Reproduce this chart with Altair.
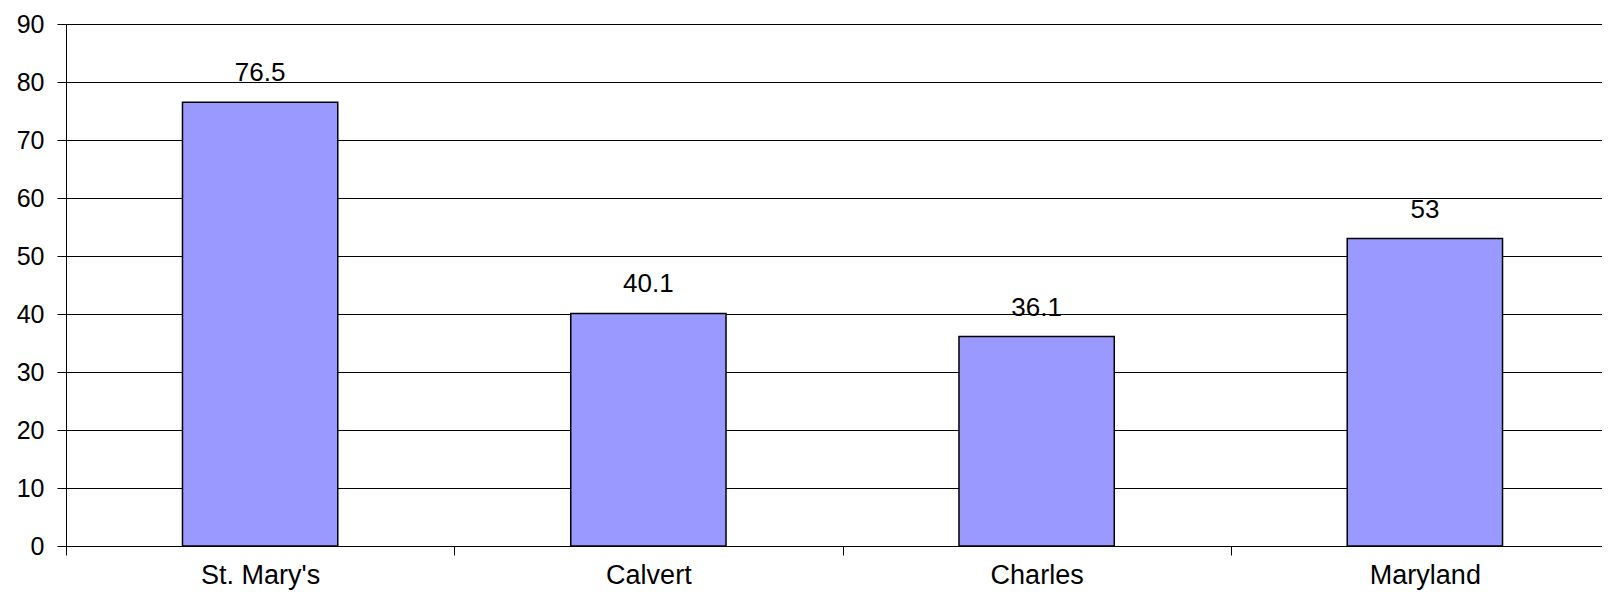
import altair as alt
import pandas as pd

categories = ["St. Mary's", "Calvert", "Charles", "Maryland"]
values = [76.5, 40.1, 36.1, 53]

df = pd.DataFrame({"region": categories, "value": values})

FONT = "Liberation Sans"

x = alt.X(
    "region:N",
    sort=categories,
    title=None,
    scale=alt.Scale(paddingInner=0, paddingOuter=0, range=[0, 1553]),
    axis=alt.Axis(
        labelAngle=0,
        labelFontSize=27,
        labelFont=FONT,
        labelColor="black",
        labelPadding=7,
        tickBand="extent",
        tickSize=9,
        tickColor="black",
        domainColor="black",
        grid=False,
    ),
)

y = alt.Y(
    "value:Q",
    title=None,
    scale=alt.Scale(domain=[0, 90], nice=False),
    axis=alt.Axis(
        values=list(range(0, 100, 10)),
        labelFontSize=25,
        labelFont=FONT,
        labelColor="black",
        labelPadding=13,
        tickSize=9,
        tickColor="black",
        domainColor="black",
        gridColor="black",
        gridOpacity=1,
        gridWidth=1,
    ),
)

bars = alt.Chart(df).mark_bar(
    width=alt.RelativeBandSize(0.4),
    fill="#9999FF",
    stroke="black",
    strokeWidth=1.5,
).encode(x=x, y=y)

labels = alt.Chart(df).mark_text(
    baseline="alphabetic",
    dy=-21,
    fontSize=26,
    font=FONT,
    color="black",
).encode(x=x, y=y, text=alt.Text("value:Q"))

chart = (
    alt.layer(bars, labels)
    .properties(
        width=1536,
        height=522,
        autosize=alt.AutoSizeParams(type="none"),
        padding={"left": 58, "top": 16, "right": 0, "bottom": 46},
    )
    .configure_view(stroke=None)
    .configure(background="white")
)

chart.save("out.html", embed_options={"renderer": "svg", "actions": False})
